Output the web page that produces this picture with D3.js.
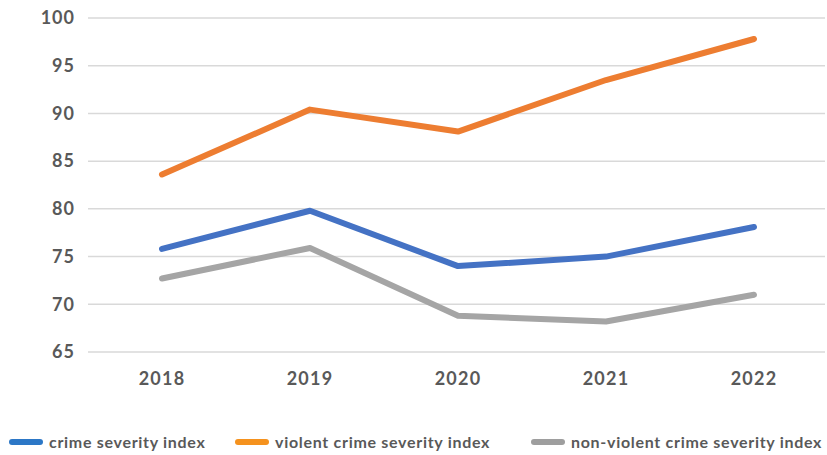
<!DOCTYPE html>
<html><head><meta charset="utf-8">
<script src="https://cdn.jsdelivr.net/npm/d3@7"></script>
<style>body{margin:0;background:#fff}svg{display:block}</style>
</head><body>
<script>
const years = ["2018","2019","2020","2021","2022"];
const crimeSeverity = [75.8, 79.8, 74.0, 75.0, 78.1];
const violentSeverity = [83.6, 90.4, 88.1, 93.5, 97.8];
const nonViolentSeverity = [72.7, 75.9, 68.8, 68.2, 71.0];
const yTicks = [65, 70, 75, 80, 85, 90, 95, 100];
const seriesNames = ["crime severity index", "violent crime severity index", "non-violent crime severity index"];
const lineColors = ["#4472C4", "#ED7D31", "#A5A5A5"];
const legendColors = ["#2C77C6", "#F5921E", "#9E9E9E"];

const series = [crimeSeverity, violentSeverity, nonViolentSeverity];
const W = 827, H = 455;
const svg = d3.select("body").append("svg").attr("width", W).attr("height", H);
const font = "Lato, 'Open Sans', sans-serif";
const txt = "#595959";

const x = d3.scaleBand().domain(years).range([88, 828]);
const y = d3.scaleLinear().domain([65, 100]).range([352, 18]);

// gridlines
svg.append("g").selectAll("line").data(yTicks).join("line")
  .attr("x1", 88).attr("x2", 825)
  .attr("y1", d => y(d)).attr("y2", d => y(d))
  .attr("stroke", "#d9d9d9").attr("stroke-width", 1.5);

// y axis
const yAxis = svg.append("g").attr("transform", "translate(75,0)")
  .call(d3.axisLeft(y).tickValues(yTicks).tickSize(0).tickPadding(0));
yAxis.select(".domain").remove();
yAxis.selectAll("text").attr("font-family", font).attr("font-size", 18)
  .attr("font-weight", 700).attr("fill", txt).attr("letter-spacing", 1);

// x axis
const xAxis = svg.append("g").attr("transform", "translate(0,369)")
  .call(d3.axisBottom(x).tickSize(0).tickPadding(0));
xAxis.select(".domain").remove();
xAxis.selectAll("text").attr("font-family", font).attr("font-size", 18)
  .attr("font-weight", 700).attr("fill", txt).attr("dy", "0.9em").attr("letter-spacing", 1.2);

// lines
const line = d3.line().x((d, i) => x(years[i]) + x.bandwidth() / 2).y(d => y(d));
svg.append("g").selectAll("path").data(series).join("path")
  .attr("d", d => line(d))
  .attr("fill", "none")
  .attr("stroke", (d, i) => lineColors[i])
  .attr("stroke-width", 6)
  .attr("stroke-linecap", "round")
  .attr("stroke-linejoin", "round");

// legend
const legendX = [12, 238, 534];
const lg = svg.append("g").selectAll("g").data(seriesNames).join("g")
  .attr("transform", (d, i) => `translate(${legendX[i]},442)`);
lg.append("line").attr("x1", 0).attr("x2", 28).attr("y1", 0).attr("y2", 0)
  .attr("stroke", (d, i) => legendColors[i]).attr("stroke-width", 6).attr("stroke-linecap", "round");
lg.append("text").attr("x", 37).attr("y", 0).attr("dy", "0.35em")
  .attr("font-family", font).attr("font-size", 16).attr("font-weight", 700)
  .attr("letter-spacing", 0.7)
  .attr("fill", txt).text(d => d);
</script>
</body></html>
